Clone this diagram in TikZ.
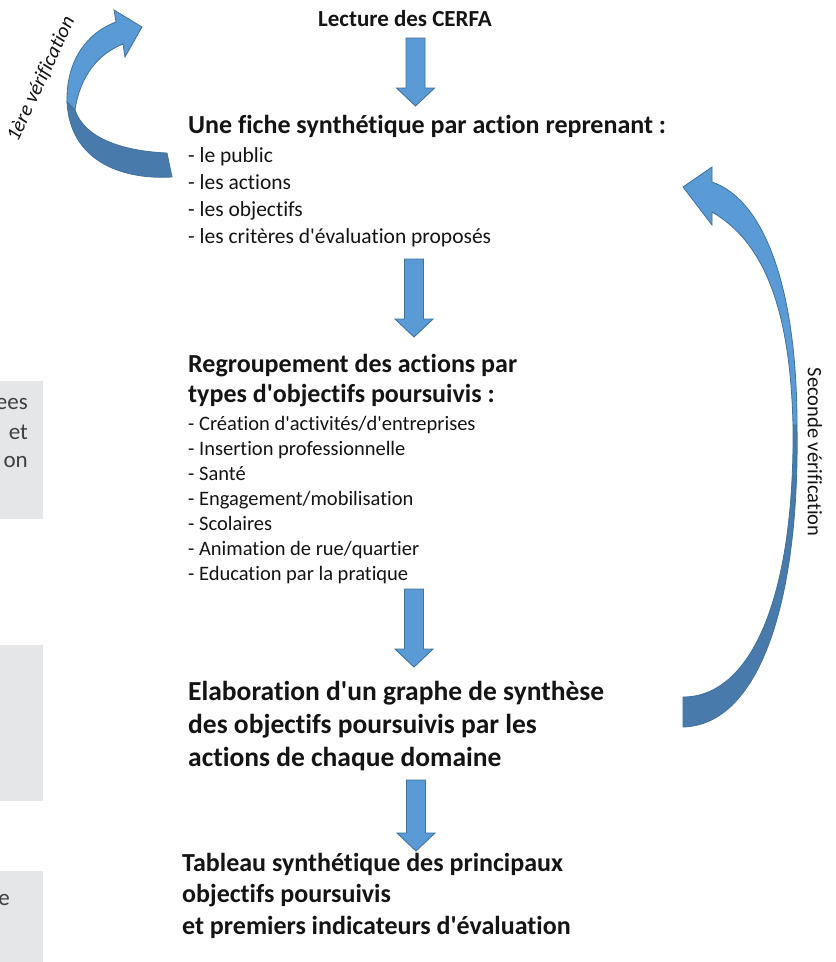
\documentclass[tikz,border=0pt]{standalone}
\usepackage{fontspec}
\setmainfont{Carlito}[Ligatures={NoCommon}]
\definecolor{arrowblue}{RGB}{91,155,213}
\definecolor{arrowedge}{RGB}{65,113,156}
\definecolor{darkblue}{RGB}{72,122,171}
\definecolor{boxgray}{RGB}{229,230,232}
\definecolor{boxtext}{RGB}{64,64,64}
\definecolor{txt}{RGB}{20,20,20}
\newcommand\qs{\textquotesingle}
\newcommand\dnarrow[4]{%
  \draw[blockarrow] (#1-9.5,#2) -- (#1+9.5,#2) -- (#1+9.5,#3) -- (#1+19,#3)
    -- (#1,#4) -- (#1-19,#3) -- (#1-9.5,#3) -- cycle;}
\begin{document}
\begin{tikzpicture}[x=1pt,y=-1pt,
  blockarrow/.style={fill=arrowblue,draw=arrowedge,line width=0.9pt,line join=miter},
  hd/.style={font=\fontsize{26}{32}\selectfont\bfseries,text=txt,anchor=base west,inner sep=0pt},
  hdb/.style={font=\fontsize{27.5}{33}\selectfont\bfseries,text=txt,anchor=base west,inner sep=0pt},
  li/.style={font=\fontsize{21.5}{26}\selectfont,text=txt,anchor=base west,inner sep=0pt},
  lis/.style={font=\fontsize{20.5}{25}\selectfont,text=txt,anchor=base west,inner sep=0pt},
  side/.style={font=\fontsize{20.5}{25}\selectfont,text=txt,inner sep=0pt},
  gbox/.style={fill=boxgray,draw=none},
  gtext/.style={font=\fontsize{23}{28}\selectfont,text=boxtext,anchor=base east,inner sep=0pt}]
\useasboundingbox (0,0) rectangle (836,962);
\fill[white] (0,0) rectangle (836,962);

% left grey boxes (cut by the page edge)
\begin{scope}
\clip (0,0) rectangle (836,962);
\fill[gbox] (-10,381) rectangle (43,519);
\fill[gbox] (-10,645) rectangle (43,801);
\fill[gbox] (-10,871) rectangle (43,972);
\node[gtext] (g1) at (28,409) {ees};
\node[gtext] (g2) at (28,439) {et};
\node[gtext] (g3) at (28,467) {on};
\node[gtext] (g4) at (10,905) {e};
\end{scope}

% title
\node[font=\fontsize{23}{28}\selectfont\bfseries,text=txt,anchor=base,inner sep=0pt] (t0) at (405,26) {Lecture des CERFA};

% block 1
\node[hd] (h1) at (188,133) {Une fiche synthétique par action reprenant :};
\node[li] (l1a) at (188,162) {- le public};
\node[li] (l1b) at (188,189) {- les actions};
\node[li] (l1c) at (188,216) {- les objectifs};
\node[li] (l1d) at (188,243) {- les critères d\qs évaluation proposés};

% block 2
\node[hd] (h2a) at (188,372) {Regroupement des actions par};
\node[hd] (h2b) at (188,402) {types d\qs objectifs poursuivis :};
\node[lis] (l2a) at (188,430) {- Création d\qs activités/d\qs entreprises};
\node[lis] (l2b) at (188,455) {- Insertion professionnelle};
\node[lis] (l2c) at (188,480) {- Santé};
\node[lis] (l2d) at (188,505) {- Engagement/mobilisation};
\node[lis] (l2e) at (188,530) {- Scolaires};
\node[lis] (l2f) at (188,555) {- Animation de rue/quartier};
\node[lis] (l2g) at (188,580) {- Education par la pratique};

% block 3
\node[hdb] (h3a) at (188,700) {Elaboration d\qs un graphe de synthèse};
\node[hdb] (h3b) at (188,733) {des objectifs poursuivis par les};
\node[hdb] (h3c) at (188,766) {actions de chaque domaine};

% block 4
\node[hd] (h4a) at (182,871) {Tableau synthétique des principaux};
\node[hd] (h4b) at (182,902) {objectifs poursuivis};
\node[hd] (h4c) at (182,934) {et premiers indicateurs d\qs évaluation};

% down arrows
\dnarrow{415.5}{38}{88}{106}
\dnarrow{414}{259}{319}{337}
\dnarrow{414}{589}{649}{667}
\dnarrow{416}{780}{833}{851}

% first check curved arrow (left)
\filldraw[fill=darkblue,draw=arrowedge,line width=0.8pt]
  (172,177) .. controls (120,180) and (70,160) .. (67,102) -- (75,110)
  .. controls (84,137) and (120,151) .. (167,153) -- cycle;
\filldraw[fill=arrowblue,draw=arrowedge,line width=0.8pt,line join=miter]
  (67,102) .. controls (66,62) and (86,33) .. (116,22) -- (114,10) -- (142,27)
  -- (125,57) -- (123,44) .. controls (98,54) and (80,76) .. (75,110) -- cycle;
\node[side,font=\fontsize{20.5}{25}\selectfont\itshape,rotate=65] (v1) at (41,79) {1ère vérification};

% second check curved arrow (right)
\filldraw[fill=darkblue,draw=arrowedge,line width=0.8pt]
  (797,425) .. controls (800,600) and (760,725) .. (683,727) -- (683,697)
  .. controls (750,697) and (795,600) .. (793,425) -- cycle;
\filldraw[fill=arrowblue,draw=arrowedge,line width=0.8pt,line join=miter]
  (712,182) .. controls (765,200) and (797,290) .. (797,425) -- (793,425)
  .. controls (790,300) and (760,240) .. (712,212) -- (712,225) -- (683,187)
  -- (712,167) -- cycle;
\node[side,rotate=-90] (v2) at (815,452) {Seconde vérification};
\end{tikzpicture}
\end{document}
